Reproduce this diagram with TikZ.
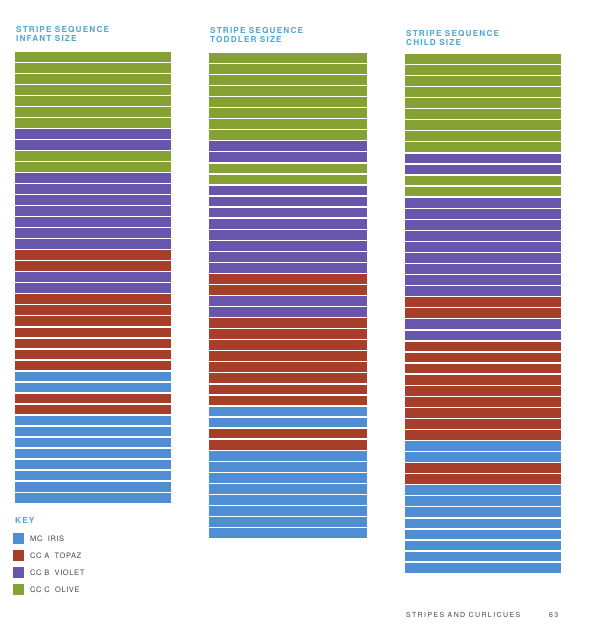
\documentclass[tikz,border=0pt]{standalone}
\usepackage{fontspec}
\newfontfamily\headfont[LetterSpace=14]{TeX Gyre Heros}
\newfontfamily\keyfont[LetterSpace=8]{TeX Gyre Heros}
\newfontfamily\footfont[LetterSpace=20]{TeX Gyre Heros}
\definecolor{olv}{RGB}{134,162,52}
\definecolor{vio}{RGB}{104,86,172}
\definecolor{tpz}{RGB}{166,62,42}
\definecolor{iri}{RGB}{80,142,212}
\definecolor{headblue}{RGB}{78,166,214}
\definecolor{txtgray}{RGB}{70,70,70}
\newcounter{stripeidx}
\newcommand\stripecolumn[5]{% left, right, top, pitch, list
  \setcounter{stripeidx}{0}%
  \foreach \n/\c in {#5}{%
    \foreach \k in {1,...,\n}{%
      \pgfmathsetmacro\ytop{#3+\arabic{stripeidx}*#4}%
      \fill[\c] (#1,\ytop) rectangle (#2,\ytop+#4-1.3);%
      \stepcounter{stripeidx}%
    }%
  }%
}
\tikzset{
  head/.style={anchor=north west, align=left, inner sep=0pt, text=headblue,
    font=\headfont\bfseries\fontsize{8.2}{9.6}\selectfont},
  keytext/.style={anchor=west, inner sep=0pt, text=txtgray,
    font=\keyfont\fontsize{7.5}{8.5}\selectfont},
  foottext/.style={anchor=west, inner sep=0pt, text=txtgray,
    font=\footfont\fontsize{7}{8}\selectfont},
  swatch/.style={minimum width=11pt, minimum height=11pt, inner sep=0pt}
}
\begin{document}
\begin{tikzpicture}[x=1pt,y=-1pt]
\useasboundingbox (0,0) rectangle (605,640);
\fill[white] (0,0) rectangle (605,640);
% columns
\stripecolumn{15}{171}{52}{11.02}{7/olv,2/vio,2/olv,7/vio,2/tpz,2/vio,7/tpz,2/iri,2/tpz,8/iri}
\stripecolumn{209}{367}{53}{11.05}{8/olv,2/vio,2/olv,8/vio,2/tpz,2/vio,8/tpz,2/iri,2/tpz,8/iri}
\stripecolumn{405}{561}{54}{11.06}{9/olv,2/vio,2/olv,9/vio,2/tpz,2/vio,9/tpz,2/iri,2/tpz,8/iri}
% headings
\node[head] (h1) at (16,26) {STRIPE SEQUENCE\\INFANT SIZE};
\node[head] (h2) at (210,27) {STRIPE SEQUENCE\\TODDLER SIZE};
\node[head] (h3) at (406,30) {STRIPE SEQUENCE\\CHILD SIZE};
% key
\node[head, anchor=west] (key) at (15,521) {KEY};
\node[swatch, fill=iri] (s1) at (18.5,538.5) {};
\node[swatch, fill=tpz] (s2) at (18.5,555.5) {};
\node[swatch, fill=vio] (s3) at (18.5,572.5) {};
\node[swatch, fill=olv] (s4) at (18.5,589.5) {};
\node[keytext] (k1) at (30,538.5) {MC\ \ IRIS};
\node[keytext] (k2) at (30,555.5) {CC A\ \ TOPAZ};
\node[keytext] (k3) at (30,572.5) {CC B\ \ VIOLET};
\node[keytext] (k4) at (30,589.5) {CC C\ \ OLIVE};
% footer
\node[foottext] (f1) at (406,615) {STRIPES AND CURLICUES};
\node[foottext] (f2) at (549,615) {63};
\end{tikzpicture}
\end{document}
